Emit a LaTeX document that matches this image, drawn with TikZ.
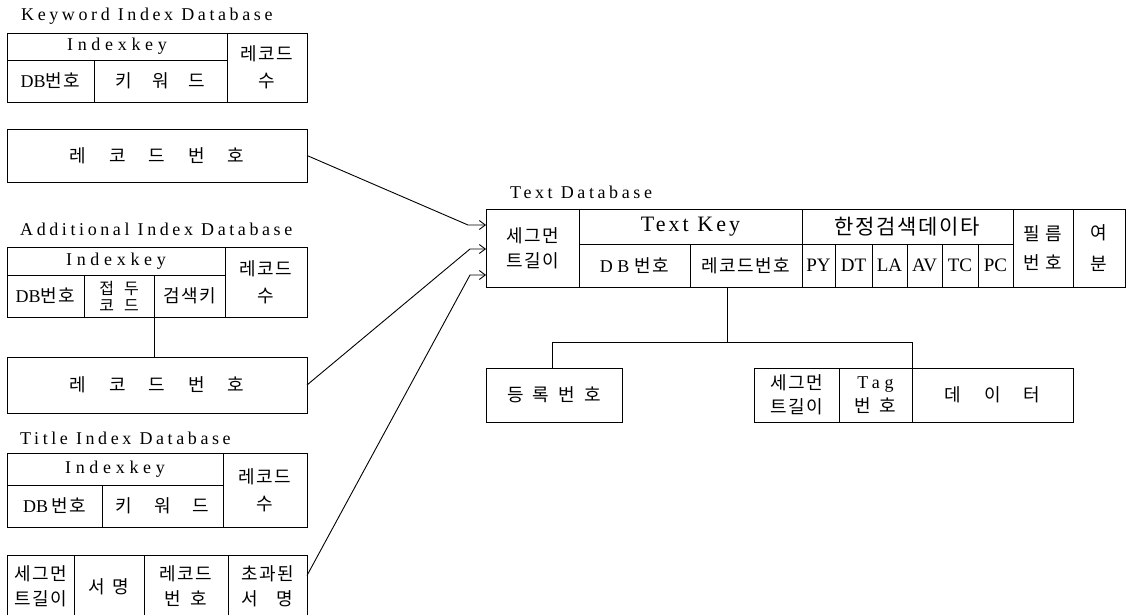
\documentclass[tikz,border=0pt]{standalone}
\usepackage{fontspec}
\setmainfont{Liberation Serif}
\newfontfamily\krf[LetterSpace=8]{Noto Sans CJK KR}
\newfontfamily\ltf[LetterSpace=20]{Liberation Serif}
\newfontfamily\ltwide[LetterSpace=26]{Liberation Serif}
\newfontfamily\ltmid[LetterSpace=14]{Liberation Serif}
\usetikzlibrary{arrows.meta}
\newcommand\kfont{\fontsize{18}{27}\selectfont\krf}
\newcommand\lat[1]{{\fontsize{18}{20}\selectfont\rmfamily #1}}
\newcommand\latb[1]{{\fontsize{19}{20}\selectfont\rmfamily #1}}
\newcommand\gp[1]{\hspace{#1pt}}
\newcommand\cellat[7]{%
  \pgfmathsetmacro\cellW{#5-#3}%
  \pgfmathsetmacro\cellH{#6-#4}%
  \node[cellbox,minimum width=\cellW pt,minimum height=\cellH pt,#1] (#2) at ({(#3+#5)/2},{(#4+#6)/2}) {#7};}
\tikzset{
  cellbox/.style={draw,line width=0.9pt,inner sep=0pt,outer sep=0pt,align=center,font=\kfont},
  ttl/.style={anchor=base west,inner sep=0pt,font=\fontsize{18}{20}\selectfont\ltf},
  link/.style={line width=0.9pt},
  arr/.style={line width=0.9pt,-{Straight Barb[length=6pt,width=9pt]}}
}
\begin{document}
\begin{tikzpicture}[x=1pt,y=-1pt]
\useasboundingbox (0,0) rectangle (1130,615);
% Keyword Index Database
\node[ttl] (kwt) at (21,21) {Keyword Index Database};
\cellat{}{kwik}{7}{33}{227}{60}{\lat{\ltwide Indexkey}}
\cellat{}{kwdb}{7}{60}{94}{102}{\lat{DB}번호}
\cellat{}{kwkw}{94}{60}{227}{102}{키\gp{20}워\gp{20}드}
\cellat{}{kwcnt}{227}{33}{307}{102}{레코드\\수}
\cellat{}{kwrec}{7}{129}{307}{182}{레\gp{23}코\gp{23}드\gp{23}번\gp{23}호}
% Additional Index Database
\node[ttl] (adt) at (20,235) {Additional Index Database};
\cellat{}{adik}{7}{247}{225}{275}{\lat{\ltwide Indexkey}}
\cellat{}{addb}{7}{275}{84}{317}{\lat{DB}번호}
\cellat{font=\fontsize{16}{17}\selectfont\krf}{adpc}{84}{275}{154}{317}{접\gp{10}두\\코\gp{10}드}
\cellat{}{adsk}{154}{275}{225}{317}{검색키}
\cellat{}{adcnt}{225}{247}{307}{317}{레코드\\수}
\cellat{}{adrec}{7}{357}{307}{413}{레\gp{23}코\gp{23}드\gp{23}번\gp{23}호}
\draw[link] (adsk.south west) -- (adsk.south west |- adrec.north);
% Title Index Database
\node[ttl] (tit) at (20,444) {Title Index Database};
\cellat{}{tiik}{7}{453}{223}{485}{\lat{\ltwide Indexkey}}
\cellat{}{tidb}{7}{485}{102}{527}{\lat{DB}\gp{3}번호}
\cellat{}{tikw}{102}{485}{223}{527}{키\gp{22}워\gp{22}드}
\cellat{}{ticnt}{223}{453}{307}{527}{레코드\\수}
\begin{scope}
\clip (0,0) rectangle (1130,615);
\cellat{font=\fontsize{18}{25}\selectfont\krf}{tiseg}{7}{555}{74}{618}{세그먼\\트길이}
\cellat{}{tiname}{74}{555}{144}{618}{서\gp{8}명}
\cellat{font=\fontsize{18}{25}\selectfont\krf}{tirec}{144}{555}{228}{618}{레코드\\번\gp{10}호}
\cellat{font=\fontsize{18}{25}\selectfont\krf}{tiover}{228}{555}{307}{618}{초과된\\서\gp{18}명}
\end{scope}
% Text Database
\node[ttl] (tdt) at (510,198) {Text Database};
\cellat{font=\fontsize{18}{25}\selectfont\krf}{tseg}{486}{209}{579}{287}{세그먼\\트길이}
\cellat{}{tkey}{579}{209}{802}{244}{{\fontsize{22}{24}\selectfont\ltmid Text Key}}
\cellat{}{tdb}{579}{244}{690}{287}{\lat{D B}\gp{5}번호}
\cellat{}{trec}{690}{244}{802}{287}{레코드번호}
\cellat{font=\fontsize{21}{24}\selectfont\krf}{tlim}{802}{209}{1013}{244}{한정검색데이타}
\cellat{}{tpy}{802}{244}{835}{287}{\latb{PY}}
\cellat{}{tdtc}{835}{244}{872}{287}{\latb{DT}}
\cellat{}{tla}{872}{244}{907}{287}{\latb{LA}}
\cellat{}{tav}{907}{244}{942}{287}{\latb{AV}}
\cellat{}{ttc}{942}{244}{978}{287}{\latb{TC}}
\cellat{}{tpc}{978}{244}{1013}{287}{\latb{PC}}
\cellat{font=\fontsize{18}{29}\selectfont\krf}{tfilm}{1013}{209}{1073}{287}{필\gp{5}름\\번\gp{5}호}
\cellat{font=\fontsize{18}{31}\selectfont\krf}{tspare}{1073}{209}{1125}{287}{여\\분}
% lower boxes
\cellat{}{reg}{486}{368}{622}{422}{등\gp{9}록\gp{9}번\gp{9}호}
\cellat{font=\fontsize{18}{24}\selectfont\krf}{tgseg}{754}{368}{839}{422}{세그먼\\트길이}
\cellat{font=\fontsize{18}{24}\selectfont\krf}{ttag}{839}{368}{912}{422}{\lat{\ltwide Tag}\\번\gp{8}호}
\cellat{}{tdata}{912}{368}{1073}{422}{데\gp{23}이\gp{23}터}
% tree connector
\draw[link] ([xshift=-19pt]trec.south) -- ++(0,55);
\draw[link] ([xshift=-2pt]reg.north) -- ++(0,-26) -| (ttag.north east);
% arrows into Text Database
\draw[arr] (kwrec.east) -- ([xshift=-18pt,yshift=23pt]tseg.west) -- ([yshift=23pt]tseg.west);
\draw[arr] (adrec.east) -- ([xshift=-16pt,yshift=-1pt]tseg.west) -- ([yshift=-1pt]tseg.west);
\draw[arr] ([yshift=11pt]tiover.east) -- ([xshift=-16pt,yshift=-27pt]tseg.west) -- ([yshift=-27pt]tseg.west);
\end{tikzpicture}
\end{document}
